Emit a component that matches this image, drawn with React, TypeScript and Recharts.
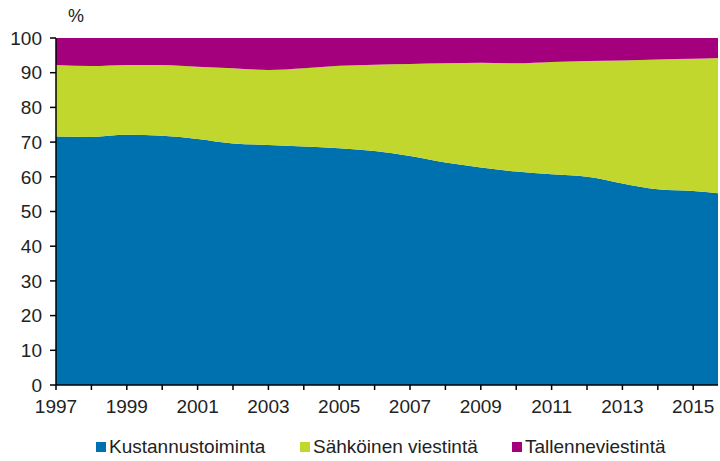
import React from 'react';
import {
  AreaChart,
  Area,
  XAxis,
  YAxis,
} from 'recharts';

const years = [
  1997, 1998, 1999, 2000, 2001, 2002, 2003, 2004, 2005, 2006,
  2007, 2008, 2009, 2010, 2011, 2012, 2013, 2014, 2015, 2016,
];
const kustannustoiminta = [
  71.6, 71.5, 72.1, 71.8, 70.9, 69.6, 69.2, 68.7, 68.2, 67.4,
  66.0, 64.1, 62.7, 61.5, 60.7, 60.0, 58.1, 56.4, 55.9, 54.9,
];
const sahkoinen = [
  20.6, 20.4, 20.1, 20.4, 20.8, 21.7, 21.6, 22.6, 23.8, 24.9,
  26.5, 28.6, 30.2, 31.2, 32.4, 33.4, 35.4, 37.4, 38.1, 39.5,
];
const tallenne = [
  7.8, 8.1, 7.8, 7.8, 8.3, 8.7, 9.2, 8.7, 8.0, 7.7,
  7.5, 7.3, 7.1, 7.3, 6.9, 6.6, 6.5, 6.2, 6.0, 5.6,
];
const yTicks = [0, 10, 20, 30, 40, 50, 60, 70, 80, 90, 100];
const xTicks = years.slice(0, 19);

const SERIES = [
  { key: 'kustannus', name: 'Kustannustoiminta', color: '#0071AF' },
  { key: 'sahko', name: 'Sähköinen viestintä', color: '#C1D72E' },
  { key: 'tallenne', name: 'Tallenneviestintä', color: '#A4007D' },
];

const data = years.map((year, i) => ({
  year,
  kustannus: kustannustoiminta[i],
  sahko: sahkoinen[i],
  tallenne: tallenne[i],
}));

const FONT = 'Arial, "Liberation Sans", sans-serif';

// legend drawn as plain html under the plot
const ChartLegend = () => (
  <div
    style={{
      position: 'absolute', left: 96, top: 436, display: 'flex',
      fontFamily: FONT, fontSize: 19, color: '#222',
    }}
  >
    {SERIES.map((s, i) => (
      <div
        key={s.key}
        style={{ display: 'flex', alignItems: 'center', width: i === 0 ? 204 : i === 1 ? 212 : 'auto' }}
      >
        <span
          style={{ display: 'inline-block', width: 10, height: 10, background: s.color, marginRight: 3 }}
        />
        <span>{s.name}</span>
      </div>
    ))}
  </div>
);

const App: React.FC = () => {
  return (
    <div style={{ position: 'fixed', left: 0, top: 0, width: 720, height: 461, overflow: 'hidden', background: '#fff' }}>
      <div
        style={{ position: 'absolute', left: 68, top: 6, fontFamily: FONT, fontSize: 18, color: '#222' }}
      >
        %
      </div>
      <AreaChart
        width={720}
        height={461}
        data={data}
        margin={{ top: 38, right: 2, bottom: 0, left: 0 }}
      >
        <XAxis
          dataKey="year"
          type="number"
          domain={[1997, 2015.7]}
          allowDataOverflow
          ticks={xTicks}
          interval={0}
          tickFormatter={(v: number) => (v % 2 === 1 ? String(v) : '')}
          tick={{ fill: '#222', fontSize: 19, fontFamily: FONT }}
          tickSize={5}
          tickMargin={10}
          axisLine={{ stroke: '#000', strokeWidth: 1.5 }}
          tickLine={{ stroke: '#000', strokeWidth: 1.5 }}
          height={76}
        />
        <YAxis
          domain={[0, 100]}
          ticks={yTicks}
          interval={0}
          width={56}
          tick={{ fill: '#222', fontSize: 19, fontFamily: FONT }}
          tickSize={6}
          tickMargin={8}
          axisLine={{ stroke: '#000', strokeWidth: 1.5 }}
          tickLine={{ stroke: '#000', strokeWidth: 1.5 }}
        />
        {SERIES.map((s) => (
          <Area
            key={s.key}
            type="monotone"
            dataKey={s.key}
            name={s.name}
            stackId="1"
            stroke="none"
            fill={s.color}
            fillOpacity={1}
            isAnimationActive={false}
          />
        ))}
      </AreaChart>
      <ChartLegend />
    </div>
  );
};

export default App;
